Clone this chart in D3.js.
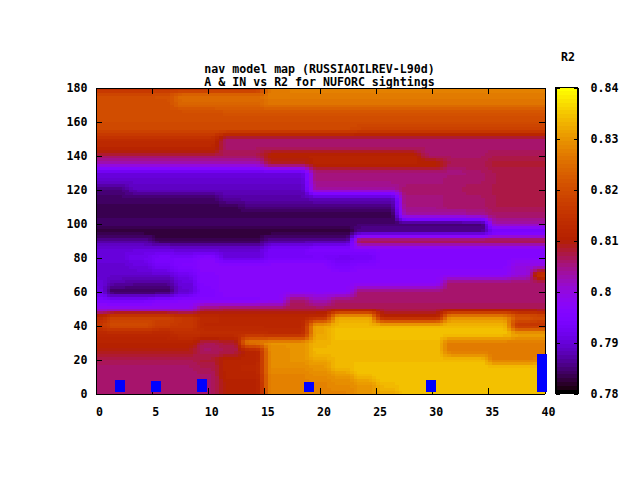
<!DOCTYPE html>
<html><head><meta charset="utf-8">
<script src="https://cdn.jsdelivr.net/npm/d3@7"></script>
<style>html,body{margin:0;background:#fff}svg{display:block}
text{font-family:"DejaVu Sans Mono",monospace;font-size:11.6px;font-weight:bold;fill:#000}
.domain{stroke:#000}.tick line{stroke:#000}</style></head><body>
<svg id="c" width="640" height="480"></svg>
<script>
const titleLines = ["nav model map (RUSSIAOILREV-L90d)", "A & IN vs R2 for NUFORC sightings"];
const colorbarTitle = "R2";
const xTicks = [0,5,10,15,20,25,30,35,40];
const yTicks = [0,20,40,60,80,100,120,140,160,180];
const cbTicks = [0.78,0.79,0.8,0.81,0.82,0.83,0.84];
const xGrid = [0,2,4,6,8,10,12,14,16,18,20,22,24,26,28,30,32,34,36,38,40];
const yGrid = [180,175,170,165,160,155,150,145,140,135,130,125,120,115,110,105,100,95,90,85,80,75,70,65,60,55,50,45,40,35,30,25,20,15,10,5,0];
// R2 in thousandths, one row per yGrid entry
const r2Rows = [
[813,813,813,813,813,813,813,813,827,828,828,828,828,828,828,828,828,828,828,828,828],
[820,820,820,821,825,825,825,825,827,827,827,827,827,827,827,827,827,827,827,827,827],
[820,820,820,820,824,824,824,824,826,826,826,826,826,826,826,826,826,826,826,826,826],
[820,820,820,820,820,820,821,821,821,821,821,821,821,821,821,821,821,821,821,821,821],
[820,820,820,820,820,820,820,820,820,820,820,820,820,820,820,820,820,820,820,820,820],
[819,819,819,819,819,819,819,819,819,819,819,819,818,818,818,818,818,818,818,818,818],
[814,814,814,814,814,814,806,806,806,806,806,806,806,806,806,806,806,806,806,806,806],
[812,812,812,812,812,812,806,806,806,806,806,806,806,806,806,806,806,806,806,806,806],
[807,807,807,807,807,807,807,807,811,811,811,811,811,811,811,806,806,806,807,807,807],
[802,802,802,802,802,802,802,802,808,808,811,811,811,811,811,811,807,807,808,808,808],
[790,790,790,790,790,790,790,790,790,790,805,805,805,805,805,805,805,806,807,807,807],
[789,789,789,789,789,789,789,789,789,789,805,805,805,805,805,805,806,806,807,807,807],
[785,785,788,788,788,788,788,788,788,788,803,803,803,803,806,806,806,807,807,807,807],
[784,784,784,784,784,784,787,787,787,787,788,788,788,788,805,805,806,806,807,807,807],
[783,783,783,783,783,783,783,785,785,785,785,785,785,785,805,805,806,806,807,807,807],
[783,783,783,783,783,783,783,783,783,783,783,783,783,783,803,803,803,804,806,806,806],
[784,784,784,784,784,784,784,784,784,784,784,784,784,784,784,784,784,784,803,803,803],
[782,782,782,782,782,782,782,782,782,782,782,782,786,786,786,786,786,786,792,792,792],
[786,786,786,783,783,783,783,783,786,786,786,786,809,809,809,809,809,809,809,809,809],
[790,790,790,790,789,789,789,789,793,793,795,795,796,796,796,796,796,796,796,796,796],
[790,790,792,794,794,796,790,790,793,793,793,792,792,796,796,796,796,796,796,796,796],
[789,789,790,793,795,797,797,797,797,797,797,794,796,796,796,796,796,796,796,800,800],
[789,789,789,789,792,796,797,797,797,797,797,797,797,797,797,797,797,797,797,800,816],
[790,787,786,786,790,796,797,797,797,797,797,797,797,797,797,797,806,806,806,806,806],
[791,783,783,783,789,795,797,797,797,797,797,797,806,806,806,806,806,806,806,806,806],
[794,793,793,795,796,796,796,796,797,806,802,806,806,806,806,806,806,806,806,806,806],
[799,799,799,799,799,806,807,807,807,807,807,807,807,807,807,807,807,807,807,807,807],
[813,818,818,818,816,813,812,812,812,812,813,832,832,811,811,811,829,829,829,822,820],
[816,820,820,817,816,812,812,812,812,812,832,834,834,834,834,834,834,834,834,815,815],
[812,812,812,812,814,814,814,814,813,813,832,835,835,835,835,835,835,835,835,832,832],
[811,811,811,811,811,807,808,828,830,830,833,834,834,834,834,834,827,827,827,827,827],
[809,809,809,809,809,806,807,811,829,830,834,834,834,834,834,834,827,827,827,827,827],
[807,807,807,807,807,808,811,811,829,830,832,834,834,834,834,834,834,834,827,827,828],
[806,806,806,806,806,807,811,812,829,829,830,834,835,835,835,835,835,835,835,835,835],
[806,806,806,806,806,806,811,811,828,828,829,830,834,835,835,835,835,835,835,835,835],
[806,806,806,806,806,806,810,810,828,828,828,829,830,834,835,835,835,835,835,835,835],
[806,806,806,806,806,806,810,810,828,828,828,828,830,832,835,835,835,835,835,835,835]
];
const barX = [2.14,5.35,9.5,19,29.85,39.75];
const barTop = [8.2,7.6,8.8,7,8.2,23];
const barBase = 0.7, barHalfWidth = 0.445;

const L=95.5,R=544.5,T=87.5,B=393.5,CL=555.5,CR=577.5;
const x=d3.scaleLinear().domain([0,40]).range([L,R]);
const y=d3.scaleLinear().domain([0,180]).range([B,T]);
const cy=d3.scaleLinear().domain([0.78,0.84]).range([B,T]);
const frac=d3.scaleLinear().domain([0.78,0.84]).range([0,1]).clamp(true);
const LEVELS=80;
function palette(v){ // gnuplot rgbformulae 7,5,15
  const t=Math.round(frac(v)*(LEVELS-1))/(LEVELS-1);
  const r=Math.sqrt(t),g=t*t*t,b=Math.max(0,Math.sin(2*Math.PI*t));
  return d3.rgb(r*255,g*255,b*255).formatHex();
}
const svg=d3.select("#c");
svg.append("rect").attr("width",640).attr("height",480).attr("fill","#fff");

// heat map: sub-cells blended from the grid (pm3d interpolate)
const sharp=t=>{const u=Math.min(1,Math.max(0,(t-0.15)/0.7));return u*u*(3-2*u);};
const SX=6,SY=3,cells=[];
for(let j=0;j<yGrid.length-1;j++)for(let i=0;i<xGrid.length-1;i++)
 for(let a=0;a<SX;a++)for(let b=0;b<SY;b++){
  const u=sharp((a+.5)/SX),w=(b+.5)/SY;
  const top=r2Rows[j][i]*(1-u)+r2Rows[j][i+1]*u, bot=r2Rows[j+1][i]*(1-u)+r2Rows[j+1][i+1]*u;
  const dx=(xGrid[i+1]-xGrid[i])/SX, dy=(yGrid[j+1]-yGrid[j])/SY;
  cells.push({x0:xGrid[i]+a*dx,x1:xGrid[i]+(a+1)*dx,y0:yGrid[j]+b*dy,y1:yGrid[j]+(b+1)*dy,v:(top*(1-w)+bot*w)/1000});
 }
svg.append("g").attr("shape-rendering","crispEdges").selectAll("rect").data(cells).join("rect")
 .attr("x",d=>Math.round(x(d.x0))).attr("y",d=>Math.round(y(d.y0)))
 .attr("width",d=>Math.round(x(d.x1))-Math.round(x(d.x0))).attr("height",d=>Math.round(y(d.y1))-Math.round(y(d.y0)))
 .attr("fill",d=>palette(d.v));

// colour bar
const cbLevels=d3.range(LEVELS).map(i=>0.78+0.06*i/LEVELS);
svg.append("g").attr("shape-rendering","crispEdges").selectAll("rect").data(cbLevels).join("rect")
 .attr("x",CL).attr("width",CR-CL)
 .attr("y",d=>Math.round(cy(d+0.06/LEVELS))).attr("height",d=>Math.round(cy(d))-Math.round(cy(d+0.06/LEVELS)))
 .attr("fill",d=>palette(d+0.03/LEVELS));

// axes
function ax(gen,tx,ty){return svg.append("g").attr("transform",`translate(${tx},${ty})`).attr("shape-rendering","crispEdges").call(gen);}
const gx=ax(d3.axisBottom(x).tickValues(xTicks).tickFormat(d3.format("d")).tickSizeInner(-6).tickSizeOuter(0).tickPadding(14),0,B);
gx.selectAll("text").attr("dx",3.5);
ax(d3.axisTop(x).tickValues(xTicks).tickFormat("").tickSizeInner(-6).tickSizeOuter(0),0,T);
ax(d3.axisLeft(y).tickValues(yTicks).tickFormat(d3.format("d")).tickSizeInner(-6).tickSizeOuter(0).tickPadding(8),L,0);
ax(d3.axisRight(y).tickValues(yTicks).tickFormat("").tickSizeInner(-6).tickSizeOuter(0),R,0);
ax(d3.axisLeft(cy).tickValues(cbTicks).tickFormat("").tickSizeInner(-4).tickSizeOuter(0),CL,0);
ax(d3.axisRight(cy).tickValues(cbTicks).tickFormat(d=>String(d)).tickSizeInner(-4).tickSizeOuter(0).tickPadding(13),CR,0);
svg.append("rect").attr("x",CL).attr("y",T).attr("width",CR-CL).attr("height",B-T).attr("fill","none").attr("stroke","#000").attr("shape-rendering","crispEdges");
svg.selectAll(".tick text").style("font-family",'"DejaVu Sans Mono",monospace').style("font-size","11.6px").style("font-weight","bold");

// bars
svg.append("g").attr("shape-rendering","crispEdges").selectAll("rect").data(barX).join("rect")
 .attr("x",d=>x(d-barHalfWidth)).attr("width",d=>x(d+barHalfWidth)-x(d-barHalfWidth))
 .attr("y",(d,i)=>y(barTop[i])).attr("height",(d,i)=>y(barBase)-y(barTop[i])).attr("fill","#0000ff");

// titles
svg.selectAll(".tt").data(titleLines).join("text").attr("class","tt").attr("x",319.5).attr("y",(d,i)=>73+i*13).attr("text-anchor","middle").text(d=>d);
svg.append("text").attr("x",568).attr("y",61).attr("text-anchor","middle").text(colorbarTitle);
</script></body></html>
